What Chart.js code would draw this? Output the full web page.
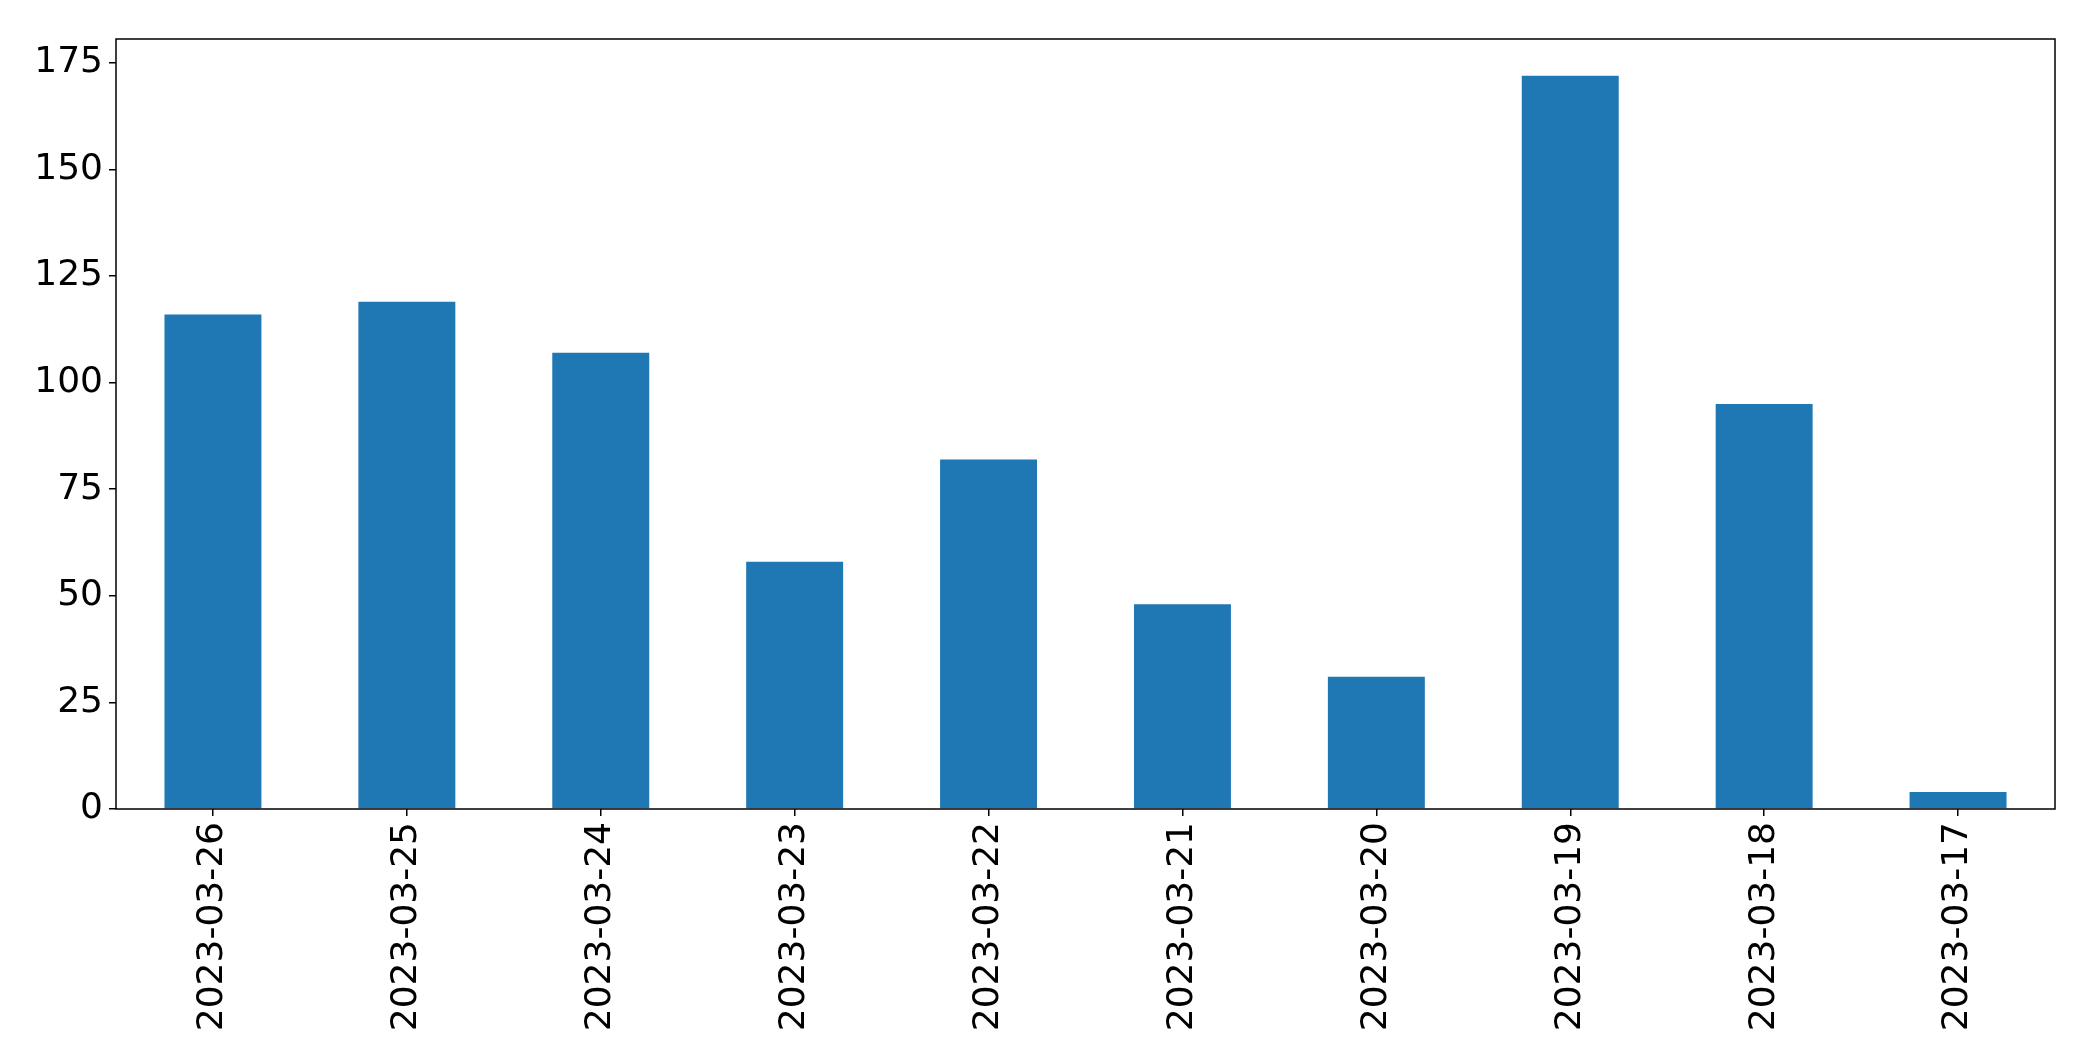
<!DOCTYPE html>
<html>
<head>
<meta charset="utf-8">
<script src="https://cdn.jsdelivr.net/npm/chart.js@4/dist/chart.umd.min.js"></script>
<style>
  body { margin: 0; background: #fff; }
  canvas { display: block; }
</style>
</head>
<body>
<canvas id="bar-chart" width="2093" height="1061"></canvas>
<script>
var dates = ['2023-03-26', '2023-03-25', '2023-03-24', '2023-03-23', '2023-03-22',
             '2023-03-21', '2023-03-20', '2023-03-19', '2023-03-18', '2023-03-17'];
var counts = [116, 119, 107, 58, 82, 48, 31, 172, 95, 4];
var yTicks = [0, 25, 50, 75, 100, 125, 150, 175];

// box around the plot area, like matplotlib's spines
var frame = {
    id: 'frame',
    afterDraw: function(chart) {
        var a = chart.chartArea, c = chart.ctx;
        c.save();
        c.strokeStyle = '#000';
        c.lineWidth = 1.5;
        c.strokeRect(a.left, a.top, a.right - a.left, a.bottom - a.top);
        c.restore();
    }
};

window.onload = function() {
    Chart.defaults.font.family = 'DejaVu Sans';
    Chart.defaults.color = '#000';
    var ctx = document.getElementById('bar-chart').getContext('2d');
    window.myBar = new Chart(ctx, {
        type: 'bar',
        data: {
            labels: dates,
            datasets: [{
                data: counts,
                backgroundColor: '#1f77b4',
                categoryPercentage: 1,
                barPercentage: 0.5
            }]
        },
        options: {
            responsive: false,
            animation: false,
            layout: { padding: { top: 39, right: 38, left: 0, bottom: 0 } },
            plugins: { legend: { display: false }, tooltip: { enabled: false } },
            scales: {
                x: {
                    offset: true,
                    grid: { display: true, offset: false, drawOnChartArea: false, drawTicks: true, tickLength: 7, color: '#000', lineWidth: 1.5 },
                    border: { display: false },
                    ticks: { font: { size: 36 }, minRotation: 90, maxRotation: 90, padding: 6 },
                    afterFit: function(s) { s.height = 252; }
                },
                y: {
                    min: 0,
                    max: 180.6,
                    grid: { display: true, drawOnChartArea: false, drawTicks: true, tickLength: 7, color: '#000', lineWidth: 1.5 },
                    border: { display: false },
                    ticks: { font: { size: 36 }, stepSize: 25, padding: 6 },
                    afterBuildTicks: function(s) {
                        s.ticks = yTicks.map(function(v) { return { value: v }; });
                    },
                    afterFit: function(s) { s.width = 116; }
                }
            }
        },
        plugins: [frame]
    });
};
</script>
</body>
</html>
